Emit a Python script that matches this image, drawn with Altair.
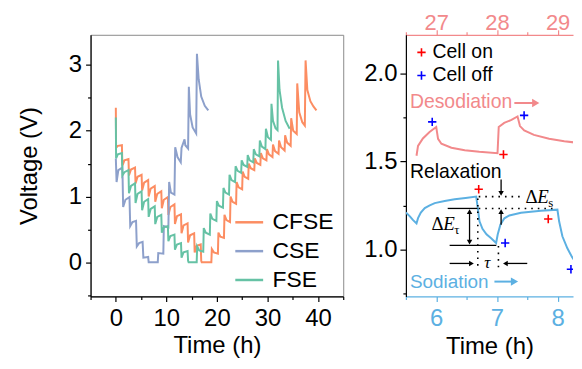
import altair as alt
import pandas as pd

FONT = "Liberation Sans"
SERIF = "Liberation Serif"

# ---------------- Left panel: GITT profiles (time h, voltage V) ----------------
series_names = ["CFSE", "CSE", "FSE"]
series_colors = ["#fc8d62", "#8da0cb", "#66c2a5"]

cfse_points = [
    (0.0, 2.35), (0.05, 1.74), (0.4, 1.77), (1.2, 1.78),
    (1.3, 1.47), (1.7, 1.55), (2.5, 1.57),
    (2.6, 1.32), (3.0, 1.41), (3.8, 1.44),
    (3.9, 1.20), (4.3, 1.30), (5.1, 1.33),
    (5.2, 1.09), (5.6, 1.21), (6.4, 1.25),
    (6.5, 1.00), (6.9, 1.12), (7.7, 1.16),
    (7.8, 0.92), (8.2, 1.04), (9.0, 1.08),
    (9.1, 0.82), (9.5, 0.95), (10.3, 0.99),
    (10.4, 0.72), (10.8, 0.84), (11.6, 0.88),
    (11.7, 0.58), (12.1, 0.70), (12.9, 0.73),
    (13.0, 0.44), (13.4, 0.56), (14.2, 0.59),
    (14.3, 0.30), (14.7, 0.41), (15.5, 0.44),
    (15.6, 0.15), (16.0, 0.25), (16.8, 0.27),
    (16.9, 0.02), (17.0, 0.0), (18.9, 0.0),
    (19.0, 0.20), (19.4, 0.15), (20.2, 0.13),
    (20.3, 0.45), (20.7, 0.39), (21.4, 0.37),
    (21.5, 0.72), (21.9, 0.64), (22.6, 0.61),
    (22.7, 1.00), (23.1, 0.92), (23.8, 0.89),
    (23.9, 1.22), (24.3, 1.14), (25.0, 1.11),
    (25.1, 1.38), (25.5, 1.30), (26.2, 1.27),
    (26.3, 1.50), (26.7, 1.43), (27.4, 1.40),
    (27.5, 1.58), (27.9, 1.51), (28.6, 1.48),
    (28.7, 1.66), (29.1, 1.58), (29.8, 1.55),
    (29.9, 1.72), (30.3, 1.64), (31.0, 1.60),
    (31.1, 1.79), (31.5, 1.69), (32.2, 1.65),
    (32.3, 1.85), (32.7, 1.75), (33.4, 1.70),
    (33.5, 1.93), (33.9, 1.82), (34.6, 1.77),
    (34.7, 2.19), (35.1, 2.00), (35.8, 1.95),
    (35.9, 2.72), (36.3, 2.28), (36.9, 2.13), (37.4, 2.08),
    (37.55, 3.07), (37.9, 2.62), (38.5, 2.45), (39.1, 2.37), (39.7, 2.31),
]

cse_points = [
    (0.0, 1.58), (0.15, 1.22), (0.5, 1.40), (1.3, 1.44),
    (1.45, 0.84), (1.9, 0.95), (2.7, 0.99),
    (2.85, 0.55), (3.3, 0.61), (4.0, 0.63),
    (4.15, 0.24), (4.6, 0.29), (5.3, 0.31),
    (5.45, 0.07), (6.4, 0.08), (6.5, 0.0), (8.3, 0.0),
    (8.4, 0.14), (9.4, 0.13),
    (9.5, 0.55), (10.4, 0.53),
    (10.55, 1.22), (10.9, 1.06), (11.6, 1.03),
    (11.75, 1.75), (12.2, 1.60), (12.85, 1.52),
    (13.0, 1.74), (13.6, 1.87), (13.75, 1.78), (14.3, 1.73),
    (14.45, 2.67), (14.7, 2.25), (15.2, 2.05), (15.9, 1.96),
    (16.05, 3.17), (16.4, 2.78), (16.9, 2.52), (17.6, 2.38), (18.3, 2.31),
]

fse_points = [
    (0.0, 2.20), (0.05, 1.58), (0.4, 1.64), (1.2, 1.66),
    (1.3, 1.32), (1.7, 1.37), (2.5, 1.40),
    (2.6, 1.05), (3.0, 1.16), (3.8, 1.20),
    (3.9, 0.90), (4.3, 1.04), (5.1, 1.08),
    (5.2, 0.79), (5.6, 0.92), (6.4, 0.96),
    (6.5, 0.69), (6.9, 0.81), (7.7, 0.85),
    (7.8, 0.58), (8.2, 0.69), (9.0, 0.72),
    (9.1, 0.45), (9.5, 0.53), (10.3, 0.55),
    (10.4, 0.32), (10.8, 0.40), (11.6, 0.42),
    (11.7, 0.19), (12.1, 0.27), (12.9, 0.29),
    (13.0, 0.07), (13.4, 0.15), (14.2, 0.17),
    (14.3, 0.02), (14.4, 0.0), (16.0, 0.0),
    (16.1, 0.24), (16.5, 0.18), (17.3, 0.16),
    (17.4, 0.52), (17.8, 0.45), (18.6, 0.42),
    (18.7, 0.74), (19.1, 0.66), (19.9, 0.63),
    (20.0, 0.93), (20.4, 0.86), (21.2, 0.83),
    (21.3, 1.13), (21.7, 1.06), (22.4, 1.03),
    (22.5, 1.33), (22.9, 1.25), (23.6, 1.22),
    (23.7, 1.46), (24.1, 1.39), (24.8, 1.36),
    (24.9, 1.55), (25.3, 1.48), (26.0, 1.45),
    (26.1, 1.63), (26.5, 1.55), (27.2, 1.52),
    (27.3, 1.72), (27.7, 1.64), (28.4, 1.61),
    (28.5, 1.85), (28.9, 1.76), (29.6, 1.72),
    (29.7, 2.03), (30.1, 1.90), (30.7, 1.86),
    (30.8, 2.41), (31.1, 2.15), (31.6, 2.04), (32.0, 2.01),
    (32.1, 3.07), (32.4, 2.62), (32.9, 2.35), (33.6, 2.15), (34.4, 2.03),
]

# ---------------- Right panel: zoomed GITT detail ----------------
# desodiation curve: time on the top axis (h)
desod_points = [
    (26.675, 1.532), (26.70, 1.588), (26.78, 1.63), (26.89, 1.667), (27.00, 1.695),
    (27.03, 1.628), (27.085, 1.60), (27.25, 1.577), (27.47, 1.563), (27.71, 1.554), (28.01, 1.546),
    (28.03, 1.695), (28.12, 1.718), (28.24, 1.735), (28.34, 1.755),
    (28.38, 1.70), (28.45, 1.676), (28.61, 1.65), (28.86, 1.628), (29.11, 1.614), (29.34, 1.605),
    (29.36, 1.746), (29.40, 1.77),
]
# sodiation curve: time on the bottom axis (h)
sod_points = [
    (5.50, 1.21), (5.566, 1.188), (5.615, 1.168), (5.675, 1.148),
    (5.70, 1.178), (5.746, 1.21), (5.811, 1.235), (5.893, 1.25), (5.975, 1.263),
    (6.139, 1.275), (6.303, 1.285), (6.484, 1.292), (6.659, 1.30),
    (6.685, 1.235), (6.713, 1.16), (6.762, 1.117), (6.828, 1.086), (6.905, 1.064), (6.987, 1.037),
    (7.013, 1.085), (7.057, 1.141), (7.123, 1.177), (7.205, 1.193), (7.397, 1.208),
    (7.725, 1.22), (7.997, 1.226),
    (8.025, 1.16), (8.079, 1.075), (8.161, 1.007), (8.238, 0.957), (8.315, 0.917),
    (8.352, 0.979), (8.40, 1.03),
]
cell_on_sod = [(6.70, 1.342), (7.846, 1.173)]
cell_off_sod = [(7.136, 1.037), (8.22, 0.888)]
cell_on_desod = [(28.108, 1.539), (29.36, 1.57)]
cell_off_desod = [(26.934, 1.724), (28.448, 1.761)]

PINK = "#f2898b"
BLUE = "#5cb0e2"
RED = "#ff0000"
DBLUE = "#0000ff"

# ---------------- build tables ----------------
rows = []
for name, pts in zip(series_names, [cfse_points, cse_points, fse_points]):
    for i, (t, v) in enumerate(pts):
        rows.append({"series": name, "t": t, "v": v, "i": i})
left_df = pd.DataFrame(rows)

desod_df = pd.DataFrame([{"tt": t, "v": v, "i": i} for i, (t, v) in enumerate(desod_points)])
sod_df = pd.DataFrame([{"t": t, "v": v, "i": i} for i, (t, v) in enumerate(sod_points)])
mark_sod_df = pd.DataFrame(
    [{"t": t, "v": v, "kind": "on"} for t, v in cell_on_sod]
    + [{"t": t, "v": v, "kind": "off"} for t, v in cell_off_sod]
)
mark_desod_df = pd.DataFrame(
    [{"tt": t, "v": v, "kind": "on"} for t, v in cell_on_desod]
    + [{"tt": t, "v": v, "kind": "off"} for t, v in cell_off_desod]
)

PLUS = "M-1,0L1,0M0,-1L0,1"
AX_FS = 24
TITLE_FS = 24
PLOT_H = 263

# ---------------- left chart ----------------
x_left_axis = alt.Axis(
    values=[-5, 0, 5, 10, 15, 20, 25, 30, 35, 40, 45],
    labelExpr="datum.value % 10 === 0 ? format(datum.value, 'd') : ''",
    tickSize={"condition": {"test": "datum.value % 10 === 0", "value": 5}, "value": 3},
    title="Time (h)", labelPadding=5, titlePadding=3, labelBaseline="top",
)
y_left_axis = alt.Axis(
    values=[-0.5, 0, 0.5, 1, 1.5, 2, 2.5, 3],
    labelExpr="datum.value % 1 === 0 ? format(datum.value, 'd') : ''",
    tickSize={"condition": {"test": "datum.value % 1 === 0", "value": 5}, "value": 3},
    title="Voltage (V)", labelPadding=4, titlePadding=27,
)

left = alt.Chart(left_df).mark_line(strokeWidth=2, clip=True).encode(
    x=alt.X("t:Q", scale=alt.Scale(domain=[-5, 45], nice=False, zero=False), axis=x_left_axis),
    y=alt.Y("v:Q", scale=alt.Scale(domain=[-0.52, 3.46], nice=False, zero=False), axis=y_left_axis),
    color=alt.Color(
        "series:N",
        scale=alt.Scale(domain=series_names, range=series_colors),
        legend=alt.Legend(
            title=None, orient="none", legendX=144, legendY=173,
            symbolType="stroke", symbolSize=784, symbolStrokeWidth=2.5,
            labelFontSize=23, labelFont=FONT, labelOffset=8, rowPadding=1, padding=0,
        ),
    ),
    order="i:Q",
    detail="series:N",
).properties(width=254, height=PLOT_H, view=alt.ViewBackground(stroke="#8a8a8a", strokeWidth=1))

# ---------------- right chart ----------------
XB_DOMAIN = [5.5, 8.254]
XT_DOMAIN = [26.5, 29.254]
Y_DOMAIN = [0.734, 2.218]

xb_scale = alt.Scale(domain=XB_DOMAIN, nice=False, zero=False)
xt_scale = alt.Scale(domain=XT_DOMAIN, nice=False, zero=False)
y_scale = alt.Scale(domain=Y_DOMAIN, nice=False, zero=False)

xb_axis = alt.Axis(
    values=[5.5, 6, 6.5, 7, 7.5, 8],
    labelExpr="datum.value % 1 === 0 ? format(datum.value, 'd') : ''",
    tickSize={"condition": {"test": "datum.value % 1 === 0", "value": 5}, "value": 3},
    domainColor=BLUE, tickColor=BLUE, labelColor=BLUE,
    title="Time (h)", labelPadding=5, titlePadding=4, orient="bottom", labelBaseline="top",
)
xt_axis = alt.Axis(
    values=[26.5, 27, 27.5, 28, 28.5, 29],
    labelExpr="datum.value % 1 === 0 ? format(datum.value, 'd') : ''",
    tickSize={"condition": {"test": "datum.value % 1 === 0", "value": 5}, "value": 3},
    domainColor=PINK, tickColor=PINK, labelColor=PINK, labelFontSize=22,
    title=None, labelPadding=0, orient="top", labelBaseline="alphabetic",
)
y_right_axis = alt.Axis(
    values=[0.75, 1.0, 1.25, 1.5, 1.75, 2.0],
    labelExpr="(datum.value * 2) % 1 === 0 ? format(datum.value, '.1f') : ''",
    tickSize={"condition": {"test": "(datum.value * 2) % 1 === 0", "value": 6}, "value": 3},
    title=None, labelPadding=3,
)


def XB(field="t"):
    return alt.X(f"{field}:Q", scale=xb_scale, axis=xb_axis)


def XB2(field):
    return alt.X2(f"{field}:Q")


def YR(field="v"):
    return alt.Y(f"{field}:Q", scale=y_scale, axis=y_right_axis)


# annotation geometry (bottom-axis time, voltage)
solid_segments = pd.DataFrame([
    {"t": 6.189, "v": 1.233, "t2": 6.680, "v2": 1.233},
    {"t": 6.221, "v": 1.024, "t2": 6.990, "v2": 1.024},
    {"t": 6.549, "v": 1.05, "t2": 6.549, "v2": 1.207},
    {"t": 7.069, "v": 1.141, "t2": 7.069, "v2": 1.205},
    {"t": 7.069, "v": 1.397, "t2": 7.069, "v2": 1.325},
    {"t": 6.221, "v": 0.921, "t2": 6.58, "v2": 0.921},
    {"t": 7.50, "v": 0.921, "t2": 7.14, "v2": 0.921},
])
dotted_segments = pd.DataFrame([
    {"t": 6.70, "v": 1.300, "t2": 7.42, "v2": 1.300},
    {"t": 6.70, "v": 1.233, "t2": 7.975, "v2": 1.233},
    {"t": 6.685, "v": 1.29, "t2": 6.685, "v2": 0.896},
    {"t": 7.025, "v": 1.02, "t2": 7.025, "v2": 0.896},
])
arrow_heads = pd.DataFrame([
    {"t": 6.549, "v": 1.215, "shape": "triangle-up"},
    {"t": 6.549, "v": 1.042, "shape": "triangle-down"},
    {"t": 7.069, "v": 1.215, "shape": "triangle-up"},
    {"t": 7.069, "v": 1.318, "shape": "triangle-down"},
    {"t": 6.58, "v": 0.921, "shape": "triangle-right"},
    {"t": 7.14, "v": 0.921, "shape": "triangle-left"},
])

solid_layer = alt.Chart(solid_segments).mark_rule(color="black", strokeWidth=1.3).encode(
    x=XB("t"), x2=XB2("t2"), y=YR("v"), y2=alt.Y2("v2:Q"))
dotted_layer = alt.Chart(dotted_segments).mark_rule(color="black", strokeWidth=1.6, strokeDash=[1.6, 5]).encode(
    x=XB("t"), x2=XB2("t2"), y=YR("v"), y2=alt.Y2("v2:Q"))
head_layer = alt.Chart(arrow_heads).mark_point(filled=True, color="black", size=30, opacity=1).encode(
    x=XB("t"), y=YR("v"), shape=alt.Shape("shape:N", scale=None))

# Delta E labels
de_df = pd.DataFrame([
    {"t": 7.47, "v": 1.30, "sub": "s"},
    {"t": 5.92, "v": 1.142, "sub": "τ"},
])
de_delta = alt.Chart(de_df).mark_text(text="Δ", font=SERIF, fontSize=19, align="left", baseline="middle", color="black").encode(
    x=XB("t"), y=YR("v"))
de_e = alt.Chart(de_df).mark_text(text="E", font=SERIF, fontSize=19, fontStyle="italic", align="left", baseline="middle", dx=12, color="black").encode(
    x=XB("t"), y=YR("v"))
de_sub = alt.Chart(de_df).mark_text(font=SERIF, fontSize=13, align="left", baseline="middle", dx=23, dy=6, color="black").encode(
    x=XB("t"), y=YR("v"), text="sub:N")
tau_df = pd.DataFrame([{"t": 6.84, "v": 0.923}])
tau_text = alt.Chart(tau_df).mark_text(text="τ", font=SERIF, fontSize=17, fontStyle="italic", align="center", baseline="middle", color="black").encode(
    x=XB("t"), y=YR("v"))

# labels
label_df = pd.DataFrame([
    {"t": 5.566, "v": 1.836, "label": "Desodiation", "c": "pink", "fs": 19.5},
    {"t": 5.566, "v": 1.442, "label": "Relaxation", "c": "black", "fs": 19.5},
    {"t": 5.566, "v": 0.818, "label": "Sodiation", "c": "blue", "fs": 19},
    {"t": 5.94, "v": 2.118, "label": "Cell on", "c": "black", "fs": 19.5},
    {"t": 5.94, "v": 1.987, "label": "Cell off", "c": "black", "fs": 19.5},
])
label_layer = alt.Chart(label_df).mark_text(font=FONT, align="left", baseline="middle").encode(
    x=XB("t"), y=YR("v"), text="label:N",
    size=alt.Size("fs:Q", scale=None, legend=None),
    color=alt.Color("c:N", scale=alt.Scale(domain=["pink", "black", "blue"], range=[PINK, "black", BLUE]), legend=None),
)
legend_marks_df = pd.DataFrame([
    {"t": 5.757, "v": 2.118, "kind": "on"},
    {"t": 5.757, "v": 1.987, "kind": "off"},
])
kind_scale = alt.Scale(domain=["on", "off"], range=[RED, DBLUE])

legend_marks = alt.Chart(legend_marks_df).mark_point(shape=PLUS, size=70, strokeWidth=1.6, filled=False, opacity=1).encode(
    x=XB("t"), y=YR("v"), stroke=alt.Stroke("kind:N", scale=kind_scale, legend=None))

# direction arrows next to Desodiation / Sodiation
dir_arrows = pd.DataFrame([
    {"t": 7.287, "v": 1.831, "t2": 7.62, "c": "pink"},
    {"t": 6.959, "v": 0.818, "t2": 7.27, "c": "blue"},
])
dir_heads = pd.DataFrame([
    {"t": 7.64, "v": 1.831, "c": "pink"},
    {"t": 7.29, "v": 0.818, "c": "blue"},
])
pc_scale = alt.Scale(domain=["pink", "blue"], range=[PINK, BLUE])
dir_shaft = alt.Chart(dir_arrows).mark_rule(strokeWidth=2).encode(
    x=XB("t"), x2=XB2("t2"), y=YR("v"), color=alt.Color("c:N", scale=pc_scale, legend=None))
dir_head = alt.Chart(dir_heads).mark_point(shape="triangle-right", filled=True, size=70, opacity=1).encode(
    x=XB("t"), y=YR("v"), color=alt.Color("c:N", scale=pc_scale, legend=None))

sod_line = alt.Chart(sod_df).mark_line(color=BLUE, strokeWidth=2, clip=True).encode(
    x=XB("t"), y=YR("v"), order="i:Q")
sod_marks = alt.Chart(mark_sod_df).mark_point(shape=PLUS, size=70, strokeWidth=1.6, filled=False, opacity=1, clip=True).encode(
    x=XB("t"), y=YR("v"), stroke=alt.Stroke("kind:N", scale=kind_scale, legend=None))

bottom_group = alt.layer(
    sod_line, solid_layer, dotted_layer, head_layer, de_delta, de_e, de_sub, tau_text,
    label_layer, legend_marks, dir_shaft, dir_head, sod_marks,
)

desod_line = alt.Chart(desod_df).mark_line(color=PINK, strokeWidth=2, clip=True).encode(
    x=alt.X("tt:Q", scale=xt_scale, axis=xt_axis), y=YR("v"), order="i:Q")
desod_marks = alt.Chart(mark_desod_df).mark_point(shape=PLUS, size=70, strokeWidth=1.6, filled=False, opacity=1, clip=True).encode(
    x=alt.X("tt:Q", scale=xt_scale, axis=xt_axis), y=YR("v"),
    stroke=alt.Stroke("kind:N", scale=kind_scale, legend=None))
top_group = alt.layer(desod_line, desod_marks)

right = alt.layer(bottom_group, top_group).resolve_scale(x="independent", color="independent").properties(
    width=168, height=PLOT_H, view=alt.ViewBackground(stroke="transparent"))

chart = alt.hconcat(left, right, spacing=18).properties(
    padding={"left": 9, "top": 2, "right": 0, "bottom": 0}
).configure_axis(
    grid=False, labelFont=FONT, titleFont=FONT, labelFontSize=AX_FS, titleFontSize=TITLE_FS,
    labelColor="black", titleColor="black", titleFontWeight="normal",
    domainColor="black", tickColor="black", domainWidth=1.2, tickWidth=1.2,
    labelFlush=False, labelOverlap=False,
).configure_text(font=FONT)

chart.save("out.html", embed_options={"renderer": "svg", "actions": False})
